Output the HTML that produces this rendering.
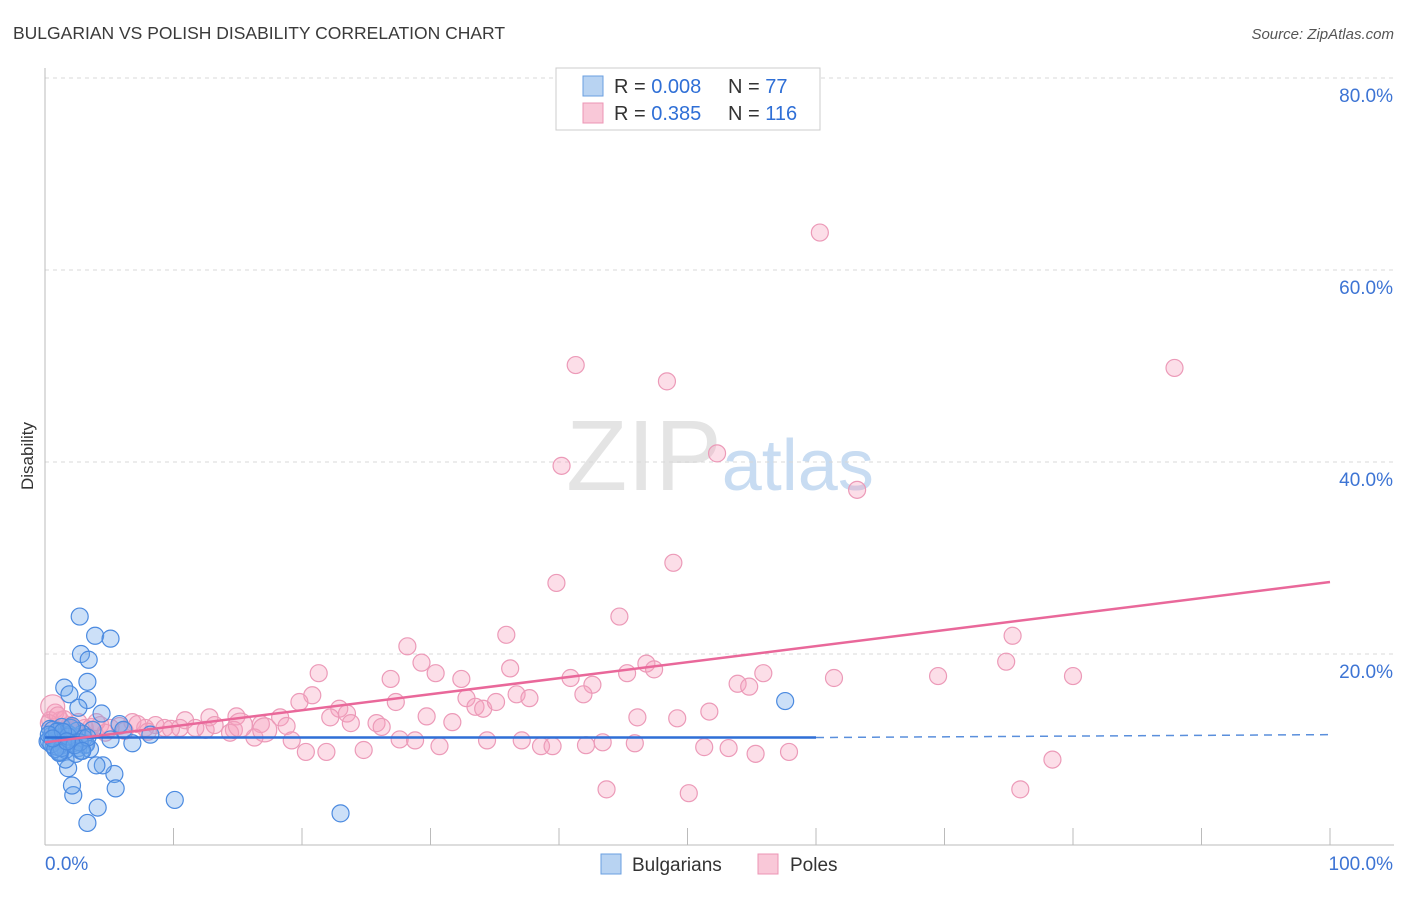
<!DOCTYPE html>
<html><head><meta charset="utf-8"><style>
body{margin:0;background:#fff;font-family:"Liberation Sans",sans-serif;}
svg text{font-family:"Liberation Sans",sans-serif;}
</style></head><body>
<svg id="chart" width="1406" height="892" viewBox="0 0 1406 892" xmlns="http://www.w3.org/2000/svg">
<text x="13" y="39" font-size="17.5" fill="#3a3a3a">BULGARIAN VS POLISH DISABILITY CORRELATION CHART</text>
<text x="1394" y="39" font-size="15" fill="#555" text-anchor="end" font-style="italic">Source: ZipAtlas.com</text>
<text x="720" y="490" font-size="100" text-anchor="middle" fill="#e4e4e4" font-family="Liberation Serif">ZIP<tspan fill="#c8dcf2" font-family="Liberation Sans" font-size="72">atlas</tspan></text>
<text transform="translate(33,456) rotate(-90)" font-size="17" fill="#333" text-anchor="middle">Disability</text>
<g id="grid"></g>
<g id="axes"></g>
<g id="pts"></g>
<g id="trends"></g>
<g>
<rect x="556" y="68" width="264" height="62" fill="#fff" stroke="#ccc"/>
<rect x="583" y="76" width="20" height="20" fill="#b8d3f2" stroke="#6a9fe0"/>
<rect x="583" y="103" width="20" height="20" fill="#f9c8d8" stroke="#ec95b4"/>
<text x="614" y="93" font-size="20" fill="#333">R = <tspan fill="#2f6fd6">0.008</tspan></text>
<text x="728" y="93" font-size="20" fill="#333">N = <tspan fill="#2f6fd6"> 77</tspan></text>
<text x="614" y="120" font-size="20" fill="#333">R = <tspan fill="#2f6fd6"> 0.385</tspan></text>
<text x="728" y="120" font-size="20" fill="#333">N = <tspan fill="#2f6fd6">116</tspan></text>
</g>
<g>
<rect x="601" y="854" width="20" height="20" fill="#b8d3f2" stroke="#6a9fe0"/>
<text x="632" y="871" font-size="19" fill="#333">Bulgarians</text>
<rect x="758" y="854" width="20" height="20" fill="#f9c8d8" stroke="#ec95b4"/>
<text x="790" y="871" font-size="19" fill="#333">Poles</text>
</g>
</svg>
<script>
const yTicks=[20,40,60,80];
const yTickLabels=["20.0%","40.0%","60.0%","80.0%"];
const xTickLabels=["0.0%","100.0%"];
const bulgX=[2.7,3.9,5.1,2.8,3.4,1.5,1.9,3.3,3.3,2.6,4.4,5.8,6.8,6.1,57.6,10.1,23.0,3.3,4.1,2.2,2.1,5.4,5.5,4.5,4.0,1.8,1.6,1.2,5.1,3.1,8.2,3.7,0.3,0.5,0.8,1.0,1.2,1.4,1.7,2.0,2.3,2.6,2.9,3.2,0.4,0.7,0.9,1.1,1.3,1.6,1.9,2.2,2.5,2.8,0.2,0.6,1.0,1.5,2.0,2.4,3.0,3.5,0.5,0.9,1.3,1.8,2.1,2.7,0.3,0.8,1.4,2.3,3.3,1.1,1.7,0.6,2.9];
const bulgY=[23.9,21.9,21.6,20.0,19.4,16.5,15.8,17.1,15.2,14.4,13.8,12.7,10.7,12.1,15.1,4.8,3.4,2.4,4.0,5.3,6.3,7.5,6.0,8.4,8.4,8.1,9.0,9.8,11.1,10.5,11.6,12.1,11.0,11.5,10.8,12.0,11.3,10.5,11.8,10.9,11.4,10.2,11.7,10.6,12.2,10.4,11.1,9.8,12.4,10.0,11.6,10.7,12.0,9.9,10.9,12.1,10.3,11.0,12.3,9.6,11.2,10.1,10.6,11.9,10.2,11.4,12.5,10.8,11.6,10.1,11.9,10.5,11.3,9.7,10.9,11.2,9.9];
const polesX=[60.3,41.3,48.4,87.9,40.2,52.3,63.2,48.9,39.8,44.7,35.9,28.2,75.3,74.8,29.3,21.3,46.8,47.4,36.2,30.4,26.9,32.4,40.9,42.6,45.3,55.9,61.4,69.5,80.0,53.9,54.8,32.8,36.7,37.7,41.9,20.8,19.8,27.3,33.5,34.1,35.1,51.7,46.1,49.2,29.7,31.7,22.9,22.2,23.5,23.8,25.8,26.2,18.3,18.8,16.8,14.9,12.8,10.9,8.6,6.8,19.2,20.3,21.9,24.8,27.6,28.8,30.7,34.4,37.1,38.6,39.5,42.1,43.4,45.9,51.3,53.2,55.3,57.9,43.7,50.1,75.9,78.4,16.3,14.7,14.4,12.5,10.5,9.3,7.8,5.8,4.3,3.1,1.9,1.2,0.8,0.4,2.3,5.1,11.7,13.2,15.2,17.1,0.6,1.5,2.6,3.6,4.7,6.2,7.2,8.0,9.8,0.3,1.0,2.0,3.0,4.0];
const polesY=[63.9,50.1,48.4,49.8,39.6,40.9,37.1,29.5,27.4,23.9,22.0,20.8,21.9,19.2,19.1,18.0,19.0,18.4,18.5,18.0,17.4,17.4,17.5,16.8,18.0,18.0,17.5,17.7,17.7,16.9,16.6,15.4,15.8,15.4,15.8,15.7,15.0,15.0,14.5,14.3,15.0,14.0,13.4,13.3,13.5,12.9,14.3,13.4,13.8,12.8,12.8,12.4,13.4,12.5,12.7,13.5,13.4,13.1,12.6,12.9,11.0,9.8,9.8,10.0,11.1,11.0,10.4,11.0,11.0,10.4,10.4,10.5,10.8,10.7,10.3,10.2,9.6,9.8,5.9,5.5,5.9,9.0,11.3,12.1,11.8,12.1,12.3,12.3,12.3,12.5,12.6,12.3,12.6,13.1,13.9,13.1,12.1,12.3,12.3,12.6,12.6,12.1,14.5,13.2,12.9,12.4,11.8,12.0,12.7,11.9,12.2,12.8,13.6,12.4,11.6,12.9];
const bulgTrend=[0,11.3,60,11.3,100,11.6];
const polesTrend=[0,10.8,100,27.5];
const X0=45,X1=1330,Y0=846,Ypx=9.6;
const sx=v=>X0+(X1-X0)*v/100;
const sy=v=>Y0-v*Ypx;
const NS="http://www.w3.org/2000/svg";
function mk(tag,attrs,parent){const e=document.createElementNS(NS,tag);for(const k in attrs)e.setAttribute(k,attrs[k]);parent.appendChild(e);return e;}
const grid=document.getElementById('grid'),axes=document.getElementById('axes'),pts=document.getElementById('pts'),tr=document.getElementById('trends');
yTicks.forEach((t,i)=>{
 const l=mk('line',{x1:45,x2:1394,y1:sy(t),y2:sy(t),stroke:'#d8d8d8','stroke-dasharray':'4,4'},grid);
 
 
 const tx=mk('text',{x:1393,y:sy(t)+24,'font-size':19,fill:'#3d74d4','text-anchor':'end'},axes);
 tx.textContent=yTickLabels[i];
 
 
});
const ax=mk('line',{x1:45,x2:1394,y1:845,y2:845,stroke:'#bbb'},axes);


const ay=mk('line',{x1:45,x2:45,y1:68,y2:845,stroke:'#bbb'},axes);


for(let i=0;i<=10;i++){const t=mk('line',{x1:sx(i*10),x2:sx(i*10),y1:828,y2:845,stroke:'#bbb'},axes);
 
 }
const xl0=mk('text',{x:45,y:870,'font-size':19,fill:'#3d74d4'},axes);xl0.textContent=xTickLabels[0];


const xl1=mk('text',{x:1393,y:870,'font-size':19,fill:'#3d74d4','text-anchor':'end'},axes);xl1.textContent=xTickLabels[1];


polesX.forEach((x,i)=>{const c=mk('circle',{cx:sx(x),cy:sy(polesY[i]),r:i>=100&&i<103?12:8.5,fill:'rgba(246,160,190,0.35)',stroke:'#ec9ab8','stroke-width':1.2},pts);
 
 });
bulgX.forEach((x,i)=>{const c=mk('circle',{cx:sx(x),cy:sy(bulgY[i]),r:8.5,fill:'rgba(110,165,235,0.35)',stroke:'#4b8ae0','stroke-width':1.2},pts);
 
 });
const b1=mk('line',{x1:sx(bulgTrend[0]),y1:sy(bulgTrend[1]),x2:sx(bulgTrend[2]),y2:sy(bulgTrend[3]),stroke:'#2f6fd6','stroke-width':2.5},tr);


const b2=mk('line',{x1:sx(bulgTrend[2]),y1:sy(bulgTrend[3]),x2:sx(bulgTrend[4]),y2:sy(bulgTrend[5]),stroke:'#5a8fdc','stroke-width':1.5,'stroke-dasharray':'8,6'},tr);


const p1=mk('line',{x1:sx(polesTrend[0]),y1:sy(polesTrend[1]),x2:sx(polesTrend[2]),y2:sy(polesTrend[3]),stroke:'#e9689a','stroke-width':2.5},tr);


</script>
</body></html>
